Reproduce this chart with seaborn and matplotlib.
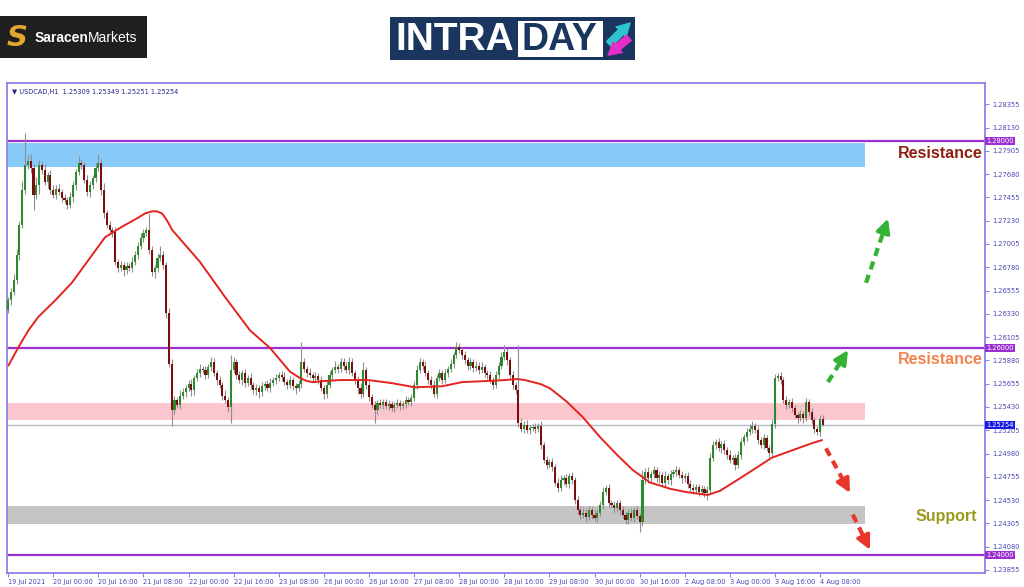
import numpy as np
import pandas as pd
import matplotlib
matplotlib.use("Agg")
import matplotlib.pyplot as plt
import seaborn as sns
from matplotlib.patches import Rectangle

# ---------------- data ----------------
symbol_header = "\u25BC USDCAD,H1  1.25309 1.25349 1.25251 1.25254"
first_open = 1.2637
closes = [
    # 19-21 Jul
    1.2646, 1.2654, 1.2666, 1.2690, 1.2719, 1.2753, 1.2777, 1.2781, 1.2774, 1.2748,
    1.2757, 1.2777, 1.2772, 1.2760, 1.2767, 1.2753, 1.2748, 1.2754, 1.2751, 1.2745,
    1.2743, 1.2738, 1.2746, 1.2757, 1.2770, 1.2779, 1.2777, 1.2762, 1.2751, 1.2757,
    1.2764, 1.2774, 1.2779, 1.2753, 1.2730, 1.2719, 1.2714, 1.2712, 1.2683, 1.2677,
    1.2680, 1.2675, 1.2679, 1.2677, 1.2683, 1.2690, 1.2699, 1.2706, 1.2711, 1.2714,
    1.2695, 1.2673, 1.2677, 1.2687, 1.2690, 1.2680, 1.2634, 1.2585, 1.2540,
    # 21-26 Jul
    1.2550, 1.2545, 1.2554, 1.2557, 1.2561, 1.2565, 1.2559, 1.2571, 1.2576, 1.2580,
    1.2579, 1.2574, 1.2582, 1.2586, 1.2576, 1.2569, 1.2564, 1.2554, 1.2550, 1.2543,
    1.2579, 1.2586, 1.2574, 1.2569, 1.2576, 1.2566, 1.2571, 1.2564, 1.2559, 1.2561,
    1.2557, 1.2563, 1.2565, 1.2561, 1.2566, 1.2569, 1.2571, 1.2574, 1.2572, 1.2567,
    1.2564, 1.2569, 1.2563, 1.2561, 1.2565, 1.2586, 1.2580, 1.2576, 1.2574, 1.2571,
    1.2573, 1.2569, 1.2561, 1.2556, 1.2564, 1.2574, 1.2579, 1.2582, 1.2580, 1.2586,
    # 26-28 Jul
    1.2583, 1.2579, 1.2586, 1.2576, 1.2569, 1.2561, 1.2556, 1.2579, 1.2564, 1.2553,
    1.2545, 1.2540, 1.2547, 1.2545, 1.2548, 1.2544, 1.2546, 1.2542, 1.2545, 1.2547,
    1.2544, 1.2546, 1.2550, 1.2548, 1.2552, 1.2564, 1.2579, 1.2586, 1.2583, 1.2576,
    1.2569, 1.2564, 1.2556, 1.2571, 1.2576, 1.2569, 1.2576, 1.2580, 1.2585, 1.2593,
    1.2601, 1.2598, 1.2593, 1.2588, 1.2583, 1.2586, 1.2581, 1.2583, 1.2579, 1.2582,
    1.2576, 1.2574, 1.2569, 1.2564, 1.2574, 1.2583, 1.2591,
    # 28 Jul - 30 Jul
    1.2596, 1.2588, 1.2574, 1.2564, 1.2559, 1.2528, 1.2522, 1.2526, 1.2521, 1.2523,
    1.2524, 1.2522, 1.2525, 1.2506, 1.2492, 1.2487, 1.2490, 1.2485, 1.2470, 1.2465,
    1.2472, 1.2474, 1.2469, 1.2476, 1.2472, 1.2453, 1.2443, 1.2439, 1.2441, 1.2437,
    1.2443, 1.2439, 1.2436, 1.2441, 1.2448, 1.2461, 1.2465, 1.2450, 1.2448, 1.2445,
    1.2450, 1.2443, 1.2439, 1.2434, 1.2441, 1.2436, 1.2443, 1.2438, 1.2432, 1.2472,
    1.2480, 1.2474, 1.2478, 1.2482, 1.2474, 1.2477, 1.2470, 1.2476, 1.2472, 1.2478,
    # 2-4 Aug
    1.2480, 1.2482, 1.2477, 1.2474, 1.2476, 1.2469, 1.2465, 1.2463, 1.2466, 1.2461,
    1.2464, 1.2460, 1.2463, 1.2494, 1.2506, 1.2509, 1.2503, 1.2507, 1.2501, 1.2497,
    1.2492, 1.2494, 1.2487, 1.2497, 1.2509, 1.2514, 1.2519, 1.2522, 1.2525, 1.2521,
    1.2511, 1.2506, 1.2513, 1.2503, 1.2499, 1.2527, 1.2571, 1.2573, 1.2569, 1.2550,
    1.2545, 1.2548, 1.2542, 1.2535, 1.2532, 1.2536, 1.2532, 1.2548, 1.2538, 1.2530,
    1.2522, 1.2519, 1.25309, 1.25254,
]
# upper / lower wick lengths in pips (0.0001)
wick_up = [
    3, 4, 5, 6, 4, 8, 31, 5, 6, 4,   8, 5, 4, 6, 3, 5, 4, 3, 4, 3,
    4, 3, 5, 4, 3, 6, 4, 3, 5, 4,    3, 5, 8, 4, 6, 3, 4, 3, 5, 3,
    4, 3, 4, 3, 5, 4, 3, 5, 4, 3,    15, 4, 3, 5, 9, 4, 3, 5, 4, 4,
    3, 5, 4, 3, 4, 5, 3, 4, 5, 3,    4, 3, 5, 4, 3, 4, 3, 5, 3, 14,
    5, 3, 4, 3, 4, 3, 5, 3, 4, 3,    4, 3, 4, 5, 3, 4, 3, 4, 5, 3,
    4, 3, 3, 4, 20, 4, 3, 5, 3, 4,   3, 4, 3, 5, 4, 3, 5, 3, 4, 4,
    3, 5, 4, 3, 4, 5, 7, 3, 4, 3,    4, 3, 4, 3, 3, 4, 3, 3, 4, 3,
    3, 4, 3, 4, 4, 5, 4, 3, 4, 3,    4, 5, 3, 4, 3, 4, 3, 4, 3, 5,
    4, 3, 4, 3, 4, 3, 4, 3, 4, 3,    3, 4, 3, 4, 3, 5, 7, 4, 3, 4,
    3, 44, 4, 3, 4, 3, 3, 4, 3, 4,   3, 4, 3, 4, 3, 4, 5, 3, 4, 3,
    4, 3, 4, 3, 4, 3, 4, 3, 4, 3,    4, 5, 3, 4, 3, 4, 3, 3, 4, 3,
    3, 4, 3, 4, 3, 10, 4, 5, 3, 4,   3, 4, 3, 5, 3, 4, 3, 4, 3, 4,
    3, 4, 3, 4, 3, 3, 4, 3, 4, 5,    4, 3, 4, 3, 4, 3, 4, 3, 4, 3,
    4, 3, 4, 5, 4, 3, 4, 3, 4, 3,    3, 4, 4, 3, 4, 3, 4, 3, 4, 3,
    3, 4, 3, 4, 3, 4, 3, 3, 4, 4,
]
wick_dn = [
    3, 4, 3, 4, 5, 3, 4, 4, 5, 15,   4, 8, 4, 3, 5, 4, 3, 4, 3, 4,
    3, 4, 3, 5, 4, 3, 4, 3, 4, 5,    3, 4, 3, 5, 4, 3, 4, 5, 3, 4,
    3, 5, 4, 3, 4, 3, 4, 3, 4, 3,    4, 3, 5, 4, 3, 4, 5, 3, 15, 4,
    3, 4, 3, 4, 3, 5, 4, 3, 4, 3,    4, 3, 4, 3, 5, 3, 4, 3, 5, 15,
    3, 4, 3, 5, 4, 3, 4, 3, 4, 5,    3, 4, 3, 4, 3, 4, 3, 4, 3, 4,
    3, 4, 5, 3, 4, 3, 4, 3, 4, 3,    4, 3, 5, 4, 3, 4, 3, 4, 3, 4,
    3, 4, 3, 4, 5, 4, 3, 4, 4, 3,    12, 4, 3, 4, 3, 4, 3, 4, 3, 4,
    3, 4, 3, 4, 3, 4, 3, 4, 3, 4,    4, 3, 4, 3, 4, 3, 4, 3, 4, 3,
    3, 4, 3, 4, 3, 4, 3, 4, 3, 4,    4, 3, 4, 3, 4, 3, 3, 4, 3, 4,
    3, 4, 3, 4, 3, 4, 3, 4, 3, 4,    3, 4, 3, 4, 3, 4, 3, 4, 3, 4,
    3, 4, 3, 4, 3, 4, 3, 4, 3, 4,    3, 4, 3, 4, 3, 4, 3, 4, 3, 4,
    4, 3, 4, 3, 10, 4, 3, 4, 3, 4,   3, 4, 3, 4, 3, 4, 3, 4, 3, 4,
    3, 4, 3, 4, 3, 4, 3, 4, 7, 4,    3, 4, 3, 4, 3, 4, 3, 4, 5, 3,
    4, 3, 4, 3, 4, 3, 4, 3, 4, 3,    4, 3, 4, 3, 4, 3, 4, 3, 4, 3,
    4, 3, 4, 3, 4, 3, 4, 3, 4, 0,
]
last_high = 1.25349
last_low = 1.25251

# moving average at bar positions
ma_bar = [0.1, 3.7, 7.2, 10.7, 16.7, 22.6, 28.5, 34.4, 40.3, 46.2, 48.6, 51.1, 52.8,
          54.6, 56.4, 58.2, 68.1, 77.0, 85.8, 92.9, 100.0, 103.5, 106.0, 108.2,
          111.7, 117.7, 127.7, 136.2, 144.3, 153.9, 161.0, 169.1, 176.2, 180.5,
          183.3, 186.2, 189.0, 192.2, 195.0, 198.2, 203.9, 209.9, 215.9, 221.6,
          227.7, 234.8, 240.1, 245.4, 248.2, 252.5, 257.8, 262.4, 270.9, 278.0,
          285.1, 288.7]
ma_val = [1.2583, 1.2601, 1.2617, 1.2630, 1.2646, 1.2663, 1.2685, 1.2707, 1.2717,
          1.2726, 1.2730, 1.2732, 1.2732, 1.2730, 1.2723, 1.2714, 1.2683, 1.2649,
          1.2617, 1.2600, 1.2577, 1.2571, 1.2568, 1.2567, 1.2568, 1.2569, 1.2569,
          1.2566, 1.2562, 1.2563, 1.2567, 1.2568, 1.2569, 1.2570, 1.2569, 1.2567,
          1.2565, 1.2561, 1.2555, 1.2548, 1.2533, 1.2514, 1.2497, 1.2482, 1.2470,
          1.2464, 1.2461, 1.2459, 1.2458, 1.2462, 1.2471, 1.2479, 1.2494, 1.2501,
          1.2508, 1.2511]

level_lines = [1.28000, 1.26000, 1.24000]
current_price = 1.25254
zone_blue = (1.27749, 1.27981)
zone_pink = (1.25304, 1.25469)
zone_gray = (1.24300, 1.24473)
zone_end_bar = 304

y_ticks = [1.28355, 1.28130, 1.27905, 1.27680, 1.27455, 1.27230, 1.27005, 1.26780,
           1.26555, 1.26330, 1.26105, 1.25880, 1.25655, 1.25430, 1.25205, 1.24980,
           1.24755, 1.24530, 1.24305, 1.24080, 1.23855]
x_tick_bars = [0, 16, 32, 48, 64, 80, 96, 112, 128, 144, 160, 176, 192, 208, 224,
               240, 256, 272, 288]
x_tick_labels = ["19 Jul 2021", "20 Jul 00:00", "20 Jul 16:00", "21 Jul 08:00",
                 "22 Jul 00:00", "22 Jul 16:00", "23 Jul 08:00", "26 Jul 00:00",
                 "26 Jul 16:00", "27 Jul 08:00", "28 Jul 00:00", "28 Jul 16:00",
                 "29 Jul 08:00", "30 Jul 00:00", "30 Jul 16:00", "2 Aug 08:00",
                 "3 Aug 00:00", "3 Aug 16:00", "4 Aug 08:00"]

# projected-move arrows: (start bar, start price, end bar, end price, colour)
arrows = [
    (304.3, 1.2663, 312.1, 1.2725, "#33b233"),
    (290.8, 1.2567, 297.9, 1.2598, "#33b233"),
    (290.1, 1.2503, 298.6, 1.2460, "#e8362a"),
    (299.6, 1.2439, 305.7, 1.2405, "#e8362a"),
]

# ---------------- build OHLC ----------------
assert len(closes) == len(wick_up) == len(wick_dn)
n = len(closes)
pip = 0.0001
df = pd.DataFrame({"bar": np.arange(n), "close": closes})
df["open"] = [first_open] + closes[:-1]
df["top"] = df[["open", "close"]].max(axis=1)
df["bot"] = df[["open", "close"]].min(axis=1)
df["high"] = df["top"] + np.array(wick_up) * pip
df["low"] = df["bot"] - np.array(wick_dn) * pip
df.loc[n - 1, "high"] = last_high
df.loc[n - 1, "low"] = last_low
df["bull"] = df["close"] >= df["open"]

# ---------------- figure ----------------
sns.set_theme(style="white")
plt.rcParams['font.family'] = ['DejaVu Sans']

W, H = 1024, 587
fig = plt.figure(figsize=(W / 100, H / 100), dpi=100)
fig.patch.set_facecolor("white")
ax = fig.add_axes([7 / W, 1 - 573 / H, 978 / W, 490 / H])
ax.set_facecolor("white")

ax.set_xlim(-0.4, 346.5)
ax.set_ylim(1.23826, 1.28560)

# zones
for (lo, hi), col in [(zone_blue, "#88cbf8"), (zone_pink, "#fbc6cd"), (zone_gray, "#c4c4c4")]:
    ax.fill_between([-0.4, zone_end_bar], lo, hi, color=col, lw=0, zorder=1)

# level lines
for lv in level_lines:
    ax.axhline(lv, color="#9a2fd2", lw=1.6, zorder=2)
ax.axhline(current_price, color="#b4bcc6", lw=1.0, zorder=2)

# candles
ax.vlines(df["bar"], df["low"], df["high"], color="#8f8f8f", lw=0.8, zorder=3)
body_h = (df["top"] - df["bot"]).clip(lower=0.00003)
ax.bar(df["bar"], body_h, bottom=df["bot"], width=0.75,
       color=np.where(df["bull"], "#2b8a2b", "#7a0e0e"), linewidth=0, zorder=4)

# moving average
ma_df = pd.DataFrame({"bar": ma_bar, "ma": ma_val})
sns.lineplot(data=ma_df, x="bar", y="ma", ax=ax, color="#e3241e", lw=1.4,
             sort=False, zorder=5)
ax.set_xlabel("")
ax.set_ylabel("")

# arrows
for x0, y0, x1, y1, col in arrows:
    xm = x0 + 0.78 * (x1 - x0)
    ym = y0 + 0.78 * (y1 - y0)
    ax.plot([x0, xm], [y0, ym], color=col, lw=3.0, dashes=(2.0, 1.4),
            solid_capstyle="butt", zorder=6)
    ax.annotate("", xy=(x1, y1), xytext=(xm, ym),
                arrowprops=dict(arrowstyle="-|>,head_width=0.35,head_length=0.7",
                                color=col, lw=2.5, shrinkA=0, shrinkB=0), zorder=6)

# zone labels
lab_font = ['Liberation Sans', 'DejaVu Sans']
ax.text(345.7, 1.2788, "Resistance", ha="right", va="center", fontsize=11.5,
        fontweight="bold", color="#8e1f12", family=lab_font, zorder=7)
ax.text(345.7, 1.2589, "Resistance", ha="right", va="center", fontsize=11.5,
        fontweight="bold", color="#f2824e", family=lab_font, zorder=7)
ax.text(343.6, 1.2437, "Support", ha="right", va="center", fontsize=11.5,
        fontweight="bold", color="#9a9a1c", family=lab_font, zorder=7)

# header text
ax.text(0.005, 0.988, symbol_header, transform=ax.transAxes, fontsize=4.8,
        color="#25258f", va="top", ha="left")

# axes styling
frame_col = "#8b82e6"
for sp in ax.spines.values():
    sp.set_color(frame_col)
    sp.set_linewidth(1.3)
ax.yaxis.tick_right()
ax.set_yticks(y_ticks)
ax.set_yticklabels([f"{v:.5f}" for v in y_ticks])
ax.set_xticks(x_tick_bars)
ax.set_xticklabels(x_tick_labels, ha="left")
ax.tick_params(axis="y", which="both", right=True, left=False, length=3, width=0.8,
               color=frame_col, labelcolor="#4646b4", labelsize=4.8, pad=2,
               direction="out")
ax.tick_params(axis="x", which="both", bottom=True, length=3, width=0.8,
               color=frame_col, labelcolor="#4646b4", labelsize=4.8, pad=1.5,
               direction="out")
ax.grid(False)

# price boxes on the right axis
for lv in level_lines:
    ax.text(1.0015, lv, f"{lv:.5f}", transform=ax.get_yaxis_transform(), fontsize=4.8,
            color="white", va="center", ha="left", zorder=8, clip_on=False,
            bbox=dict(boxstyle="square,pad=0.15", fc="#9a2fd2", ec="none"))
ax.text(1.0015, current_price, f"{current_price:.5f}", transform=ax.get_yaxis_transform(),
        fontsize=4.8, color="white", va="center", ha="left", zorder=8, clip_on=False,
        bbox=dict(boxstyle="square,pad=0.15", fc="#1a1ae6", ec="none"))

# ---------------- logos ----------------
def fx(px):
    return px / W


def fy(py):
    return 1 - py / H


fig.patches.append(Rectangle((fx(0), fy(58)), fx(147), 42 / H, transform=fig.transFigure,
                             facecolor="#1f1f1f", edgecolor="none", zorder=0))
fig.text(fx(17), fy(38), "S", color="#e2a72c", fontsize=21, fontweight="bold",
         style="italic", ha="center", va="center")
fig.text(fx(35), fy(38), "Saracen", color="white", fontsize=10, fontweight="bold",
         family="Liberation Sans", ha="left", va="center")
fig.text(fx(88), fy(38), "Markets", color="white", fontsize=10,
         family="Liberation Sans", ha="left", va="center")

fig.patches.append(Rectangle((fx(390), fy(60)), 245 / W, 43 / H, transform=fig.transFigure,
                             facecolor="#1b365e", edgecolor="none", zorder=0))
fig.patches.append(Rectangle((fx(518), fy(57)), 85 / W, 36 / H, transform=fig.transFigure,
                             facecolor="white", edgecolor="none", zorder=1))
fig.text(fx(395), fy(40), "INTRA", color="white", fontsize=28, fontweight="bold",
         family="Liberation Sans", ha="left", va="center")
fig.text(fx(521), fy(40), "DAY", color="#1b365e", fontsize=27, fontweight="bold",
         family="Liberation Sans", ha="left", va="center")
fig.add_artist(matplotlib.patches.FancyArrowPatch(
    (607, H - 46), (632, H - 21), transform=None,
    arrowstyle="simple,head_width=10,head_length=9,tail_width=5", color="#2ec4d0"))
fig.add_artist(matplotlib.patches.FancyArrowPatch(
    (631, H - 36), (606, H - 57), transform=None,
    arrowstyle="simple,head_width=10,head_length=9,tail_width=5", color="#e62fc8"))

fig.savefig("out.png", dpi=100)
